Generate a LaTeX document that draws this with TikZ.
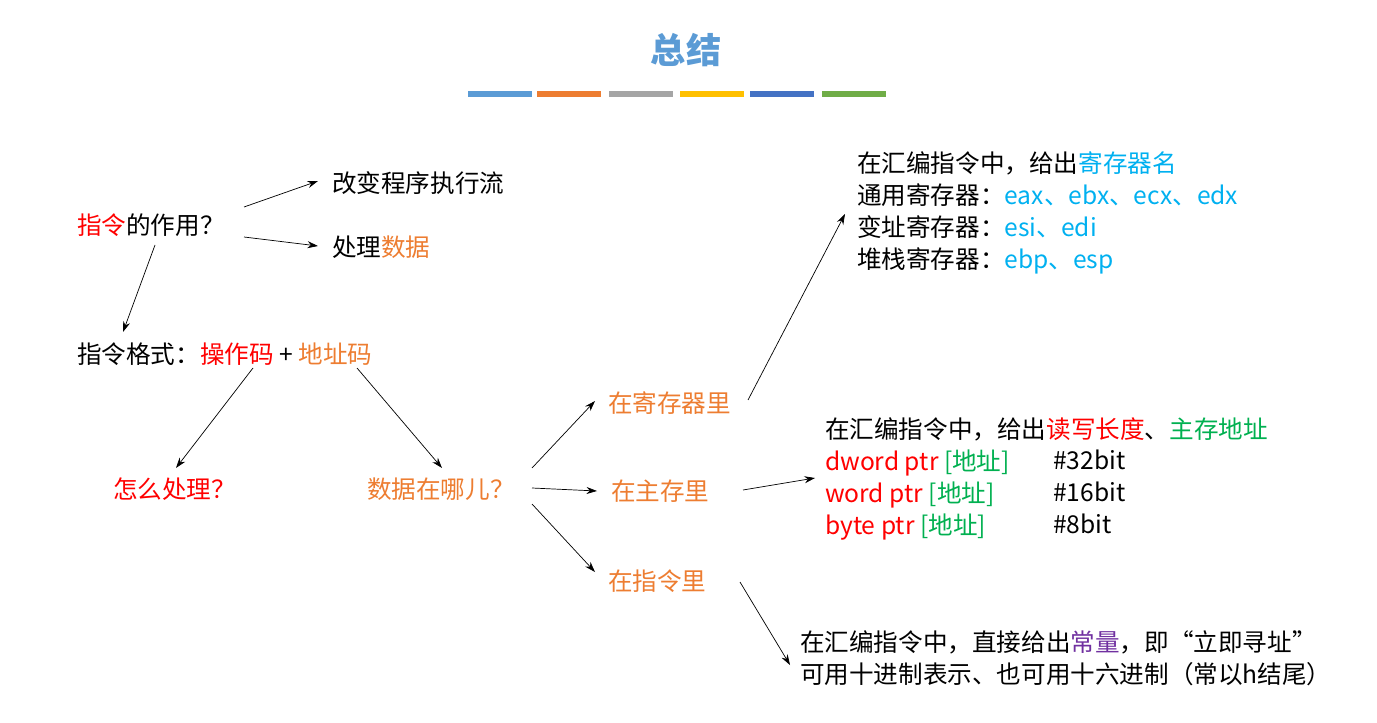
\documentclass[tikz,border=0pt]{standalone}
\usepackage{fontspec}
\setmainfont[Scale=1.08]{Carlito}
\newfontfamily\cjk{Noto Sans CJK SC}
\usetikzlibrary{arrows.meta,positioning}
\definecolor{ttl}{HTML}{5B9BD5}
\definecolor{org}{HTML}{ED7D31}
\definecolor{cyn}{HTML}{00B0F0}
\definecolor{grn}{HTML}{00B050}
\definecolor{pur}{HTML}{7030A0}
\definecolor{barA}{HTML}{5B9BD5}
\definecolor{barB}{HTML}{ED7D31}
\definecolor{barC}{HTML}{A5A5A5}
\definecolor{barD}{HTML}{FFC000}
\definecolor{barE}{HTML}{4472C4}
\definecolor{barF}{HTML}{70AD47}
\begin{document}
\begin{tikzpicture}[x=0.02cm,y=-0.02cm,
  txt/.style={anchor=west,inner sep=1pt,font=\fontsize{14}{16}\selectfont\cjk},
  blk/.style={anchor=north west,inner sep=1pt,align=left,font=\fontsize{14}{18.2}\selectfont\cjk},
  arr/.style={-{Stealth[length=6pt,width=4pt]},thin}]
  \useasboundingbox (0,0) rectangle (1377,723);

  % title and bars
  \node[font=\fontsize{20}{24}\selectfont\bfseries\cjk,text=ttl] (title) at (686,50) {总结};
  \foreach \xa/\c in {468/barA,537/barB,609/barC,680/barD,750/barE,822/barF}
    \fill[\c] (\xa,91) rectangle ++(64,6);

  % left part
  \node[txt] (role) at (75,225) {\textcolor{red}{指令}的作用？};
  \node[txt] (flow) at (330,183) {改变程序执行流};
  \node[txt] (data) at (330,247) {处理\textcolor{org}{数据}};
  \node[txt] (fmt) at (75,354) {指令格式：\textcolor{red}{操作码} + \textcolor{org}{地址码}};
  \node[txt,text=red] (how) at (111,489) {怎么处理？};
  \node[txt,text=org] (where) at (365,489) {数据在哪儿？};

  % middle
  \node[txt,text=org] (reg) at (606,403) {在寄存器里};
  \node[txt,text=org] (mem) at (609,491) {在主存里};
  \node[txt,text=org] (imm) at (606,581) {在指令里};

  % right blocks
  \node[blk] (regtxt) at (855,150) {在汇编指令中，给出\textcolor{cyn}{寄存器名}\\
    通用寄存器：\textcolor{cyn}{eax、ebx、ecx、edx}\\
    变址寄存器：\textcolor{cyn}{esi、edi}\\
    堆栈寄存器：\textcolor{cyn}{ebp、esp}};
  \node[blk] (memtxt) at (823,416) {在汇编指令中，给出\textcolor{red}{读写长度}、\textcolor{grn}{主存地址}\\
    \textcolor{red}{dword ptr }\textcolor{grn}{[地址]}\\
    \textcolor{red}{word ptr }\textcolor{grn}{[地址]}\\
    \textcolor{red}{byte ptr }\textcolor{grn}{[地址]}};
  \node[blk] (bits) at (1051,448) {\#32bit\\ \#16bit\\ \#8bit};
  \node[blk] (immtxt) at (798,629) {在汇编指令中，直接给出\textcolor{pur}{常量}，即“立即寻址”\\
    可用十进制表示、也可用十六进制（常以h结尾）};

  % connector ends
  \coordinate (r1) at (244,207); \coordinate (r2) at (244,237);
  \coordinate (f0) at (318,181); \coordinate (d0) at (318,246);
  \coordinate (r3) at (155,245); \coordinate (m0) at (123,332);
  \coordinate (m1) at (253,368); \coordinate (h0) at (176,468);
  \coordinate (m2) at (357,368); \coordinate (w0) at (442,468);
  \coordinate (w1) at (532,468); \coordinate (w2) at (532,488); \coordinate (w3) at (532,504);
  \coordinate (g0) at (595,401); \coordinate (s0) at (597,491); \coordinate (i0) at (595,572);
  \coordinate (g1) at (748,400); \coordinate (gt) at (845,214);
  \coordinate (s1) at (743,490); \coordinate (st) at (815,478);
  \coordinate (i1) at (740,582); \coordinate (it) at (790,665);

  % connectors
  \draw[arr] (r1) -- (f0);
  \draw[arr] (r2) -- (d0);
  \draw[arr] (r3) -- (m0);
  \draw[arr] (m1) -- (h0);
  \draw[arr] (m2) -- (w0);
  \draw[arr] (w1) -- (g0);
  \draw[arr] (w2) -- (s0);
  \draw[arr] (w3) -- (i0);
  \draw[arr] (g1) -- (gt);
  \draw[arr] (s1) -- (st);
  \draw[arr] (i1) -- (it);
\end{tikzpicture}
\end{document}
